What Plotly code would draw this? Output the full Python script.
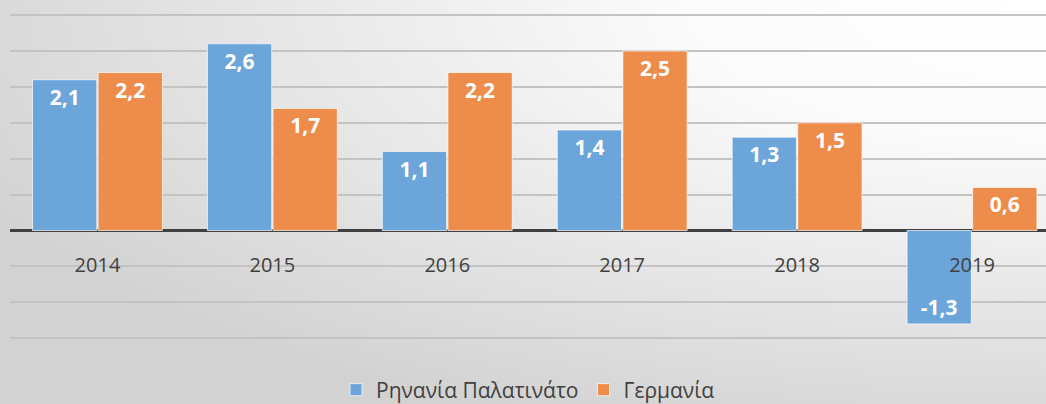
import base64
import plotly.graph_objects as go

years = ["2014", "2015", "2016", "2017", "2018", "2019"]
rhineland = [2.1, 2.6, 1.1, 1.4, 1.3, -1.3]
germany = [2.2, 1.7, 2.2, 2.5, 1.5, 0.6]
series_names = ["Ρηνανία Παλατινάτο", "Γερμανία"]

W, H = 1046, 404
ML, MR, MT, MB = 10, 0, 0, 60
ymin, ymax = -1.58, 3.21
zero_pos = (0 - ymin) / (ymax - ymin)

svg = (
    '<svg xmlns="http://www.w3.org/2000/svg" width="1046" height="404" preserveAspectRatio="none">'
    '<defs><radialGradient id="g" cx="100%" cy="0%" r="115%" gradientUnits="objectBoundingBox">'
    '<stop offset="0%" stop-color="#ffffff"/><stop offset="30%" stop-color="#fbfbfb"/>'
    '<stop offset="100%" stop-color="#d2d2d2"/></radialGradient></defs>'
    '<rect width="1046" height="404" fill="url(#g)"/></svg>'
)
src = "data:image/svg+xml;base64," + base64.b64encode(svg.encode()).decode()

pw = W - ML - MR
ph = H - MT - MB

fig = go.Figure()
fig.add_trace(go.Bar(
    x=years, y=rhineland, name=series_names[0],
    marker=dict(color="#6ca5da", line=dict(color="rgba(255,255,255,0.7)", width=1)),
    texttemplate="%{y:.1f}", textposition="inside", insidetextanchor="end",
    textfont=dict(color="white", size=21, family="Open Sans", weight="bold"),
    textangle=0,
))
fig.add_trace(go.Bar(
    x=years, y=germany, name=series_names[1],
    marker=dict(color="#ee8c4b", line=dict(color="rgba(255,255,255,0.7)", width=1)),
    texttemplate="%{y:.1f}", textposition="inside", insidetextanchor="end",
    textfont=dict(color="white", size=21, family="Open Sans", weight="bold"),
    textangle=0,
))

fig.update_layout(
    width=W, height=H,
    margin=dict(l=ML, r=MR, t=MT, b=MB, autoexpand=False),
    paper_bgcolor="rgba(0,0,0,0)", plot_bgcolor="rgba(0,0,0,0)",
    separators=",.",
    barmode="group", bargap=0.25, bargroupgap=0.02,
    font=dict(family="Open Sans", color="#404040"),
    images=[dict(source=src, xref="paper", yref="paper",
                 x=-ML / pw, y=1 + MT / ph, sizex=W / pw, sizey=H / ph,
                 xanchor="left", yanchor="top", sizing="stretch", layer="below")],
    xaxis=dict(anchor="free", position=zero_pos, showline=False, ticks="",
               range=[-0.5, 5.423],
               ticklabelstandoff=20, tickfont=dict(size=20, color="#404040"),
               showgrid=False),
    yaxis=dict(range=[ymin, ymax], dtick=0.5, tick0=0, showticklabels=False,
               showgrid=True, gridcolor="#c3c3c3", gridwidth=1.5,
               zeroline=True, zerolinecolor="#404040", zerolinewidth=3),
    legend=dict(orientation="h", x=0.5, xanchor="center", y=-46 / ph, yanchor="middle",
                font=dict(size=21, color="#404040"), bgcolor="rgba(0,0,0,0)",
                itemwidth=30),
    showlegend=True,
)

fig.write_html("out.html")
